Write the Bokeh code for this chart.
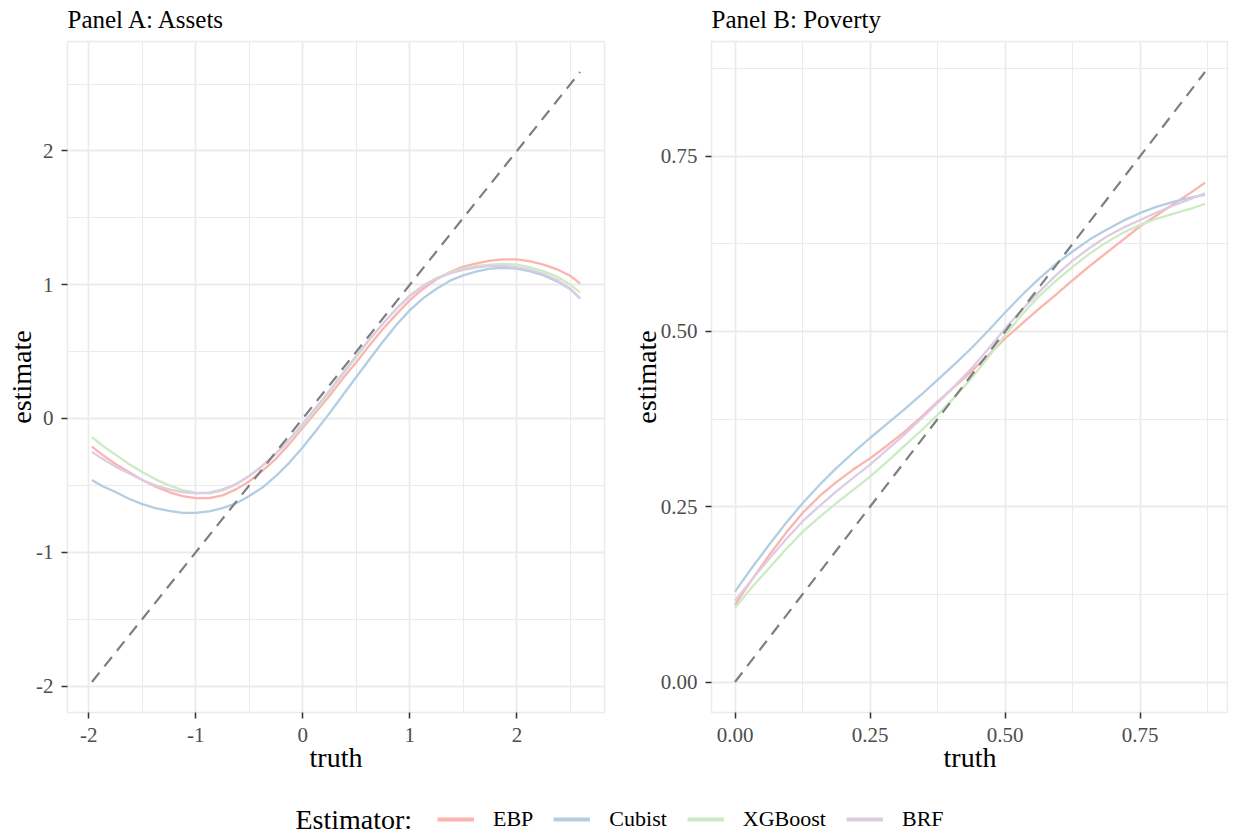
from bokeh.plotting import figure
from bokeh.layouts import column, row
from bokeh.models import Range1d, FixedTicker, Legend, LegendItem, NumeralTickFormatter, Label
from bokeh.embed import file_html
from bokeh.resources import INLINE

FONT = "Liberation Serif"

estimators = ["EBP", "Cubist", "XGBoost", "BRF"]
colors = ["#FBB4AE", "#B3CDE3", "#CCEBC5", "#DECBE4"]

# Panel A: Assets
assets_truth = [-1.97, -1.875, -1.75, -1.625, -1.5, -1.375, -1.25, -1.125, -1.0, -0.875,
                -0.75, -0.625, -0.5, -0.375, -0.25, -0.125, 0.0, 0.125, 0.25, 0.375,
                0.5, 0.625, 0.75, 0.875, 1.0, 1.125, 1.25, 1.375, 1.5, 1.625,
                1.75, 1.875, 2.0, 2.125, 2.25, 2.375, 2.5, 2.59]
assets_ebp = [-0.21, -0.27, -0.34, -0.40, -0.46, -0.51, -0.55, -0.58, -0.595, -0.595,
              -0.575, -0.53, -0.47, -0.39, -0.30, -0.19, -0.07, 0.05, 0.17, 0.30,
              0.42, 0.55, 0.67, 0.78, 0.885, 0.97, 1.04, 1.095, 1.135, 1.16,
              1.18, 1.19, 1.19, 1.175, 1.15, 1.115, 1.065, 1.01]
assets_cubist = [-0.46, -0.505, -0.55, -0.60, -0.64, -0.67, -0.69, -0.705, -0.705, -0.695,
                 -0.67, -0.635, -0.58, -0.515, -0.43, -0.33, -0.215, -0.09, 0.04, 0.175,
                 0.31, 0.445, 0.575, 0.70, 0.81, 0.90, 0.97, 1.03, 1.07, 1.10,
                 1.12, 1.125, 1.12, 1.10, 1.07, 1.025, 0.965, 0.90]
assets_xgboost = [-0.14, -0.20, -0.27, -0.34, -0.40, -0.455, -0.50, -0.535, -0.555, -0.56,
                  -0.54, -0.495, -0.43, -0.355, -0.265, -0.16, -0.05, 0.07, 0.20, 0.33,
                  0.46, 0.59, 0.71, 0.82, 0.92, 0.995, 1.05, 1.09, 1.12, 1.14,
                  1.15, 1.155, 1.15, 1.13, 1.10, 1.06, 1.00, 0.94]
assets_brf = [-0.25, -0.30, -0.36, -0.41, -0.46, -0.50, -0.53, -0.55, -0.56, -0.555,
              -0.53, -0.49, -0.43, -0.35, -0.26, -0.155, -0.04, 0.085, 0.21, 0.34,
              0.47, 0.595, 0.71, 0.82, 0.915, 0.99, 1.045, 1.085, 1.11, 1.13,
              1.14, 1.14, 1.13, 1.11, 1.08, 1.035, 0.97, 0.895]
assets_diag = [-1.97, 2.59]

# Panel B: Poverty
poverty_truth = [0.0, 0.03125, 0.0625, 0.09375, 0.125, 0.15625, 0.1875, 0.21875, 0.25,
                 0.28125, 0.3125, 0.34375, 0.375, 0.40625, 0.4375, 0.46875, 0.5,
                 0.53125, 0.5625, 0.59375, 0.625, 0.65625, 0.6875, 0.71875, 0.75,
                 0.78125, 0.8125, 0.84375, 0.87]
poverty_ebp = [0.110, 0.146, 0.180, 0.212, 0.241, 0.265, 0.285, 0.303, 0.319,
               0.337, 0.356, 0.377, 0.400, 0.421, 0.443, 0.466, 0.490,
               0.511, 0.532, 0.552, 0.573, 0.593, 0.612, 0.631, 0.650,
               0.666, 0.682, 0.698, 0.712]
poverty_cubist = [0.129, 0.163, 0.195, 0.226, 0.255, 0.281, 0.305, 0.327, 0.348,
                  0.368, 0.388, 0.409, 0.431, 0.453, 0.476, 0.501, 0.527,
                  0.552, 0.575, 0.596, 0.614, 0.631, 0.645, 0.658, 0.669,
                  0.678, 0.685, 0.691, 0.695]
poverty_xgboost = [0.106, 0.135, 0.162, 0.189, 0.214, 0.235, 0.255, 0.274, 0.293,
                   0.314, 0.336, 0.358, 0.381, 0.406, 0.433, 0.463, 0.495,
                   0.524, 0.550, 0.572, 0.592, 0.611, 0.627, 0.641, 0.652,
                   0.661, 0.668, 0.675, 0.682]
poverty_brf = [0.116, 0.146, 0.175, 0.203, 0.229, 0.251, 0.272, 0.291, 0.310,
               0.331, 0.352, 0.375, 0.398, 0.422, 0.447, 0.475, 0.504,
               0.531, 0.556, 0.580, 0.601, 0.619, 0.635, 0.648, 0.659,
               0.670, 0.680, 0.689, 0.697]
poverty_diag = [0.0, 0.87]

assets_ticks = [-2, -1, 0, 1, 2]
assets_minor = [-1.5, -0.5, 0.5, 1.5, 2.5]
poverty_ticks = [0.0, 0.25, 0.5, 0.75]
poverty_minor = [0.125, 0.375, 0.625, 0.875]


def expand(lo, hi, f=0.05):
    d = (hi - lo) * f
    return lo - d, hi + d


def make_panel(title, truth, series, diag, ticks, minor, fmt, width, mbl, mbr, ylab_standoff):
    lo, hi = expand(min(diag), max(diag))
    p = figure(width=width, height=782, x_range=Range1d(lo, hi), y_range=Range1d(lo, hi),
               output_backend="svg", toolbar_location=None, title=title,
               min_border_left=mbl, min_border_right=mbr, min_border_top=47,
               min_border_bottom=64)
    p.title.text_font = FONT
    p.title.text_font_size = "25px"
    p.title.text_font_style = "normal"
    p.title.text_color = "#000000"
    p.title.offset = 0
    p.title.standoff = 18
    p.outline_line_color = "#EBEBEB"
    p.outline_line_width = 1.5
    for ax in (p.xaxis[0], p.yaxis[0]):
        ax.ticker = FixedTicker(ticks=ticks, minor_ticks=minor)
        ax.formatter = NumeralTickFormatter(format=fmt)
        ax.axis_line_color = None
        ax.major_tick_line_color = "#333333"
        ax.major_tick_line_width = 1.5
        ax.major_tick_out = 6
        ax.major_tick_in = 0
        ax.minor_tick_line_color = None
        ax.major_label_text_font = FONT
        ax.major_label_text_font_size = "21px"
        ax.major_label_text_color = "#4D4D4D"
        ax.axis_label_text_font = FONT
        ax.axis_label_text_font_size = "28px"
        ax.axis_label_text_font_style = "normal"
        ax.axis_label_text_color = "#000000"
    p.xaxis.axis_label = "truth"
    p.yaxis.axis_label = "estimate"
    p.xaxis.major_label_standoff = 9
    p.yaxis.major_label_standoff = 8
    p.xaxis.axis_label_standoff = -3
    p.yaxis.axis_label_standoff = ylab_standoff
    for g in (p.xgrid[0], p.ygrid[0]):
        g.grid_line_color = "#EBEBEB"
        g.grid_line_width = 1.8
        g.minor_grid_line_color = "#EBEBEB"
        g.minor_grid_line_width = 1
    for est, c in zip(series, colors):
        p.line(truth, est, line_color=c, line_width=2.3)
    p.line(diag, diag, line_color="#7F7F7F", line_width=2.2, line_dash="12 8")
    return p


pA = make_panel("Panel A: Assets", assets_truth,
                [assets_ebp, assets_cubist, assets_xgboost, assets_brf],
                assets_diag, assets_ticks, assets_minor, "0", 620, 67, 16, -4)
pB = make_panel("Panel B: Poverty", poverty_truth,
                [poverty_ebp, poverty_cubist, poverty_xgboost, poverty_brf],
                poverty_diag, poverty_ticks, poverty_minor, "0.00", 608, 91, 0, -4)

leg = figure(width=1228, height=58, output_backend="svg", toolbar_location=None,
             x_axis_location=None, y_axis_location=None,
             x_range=Range1d(0, 1228), y_range=Range1d(0, 58),
             min_border_left=0, min_border_right=0, min_border_top=0, min_border_bottom=0)
leg.grid.visible = False
leg.outline_line_color = None
items = []
for name, c, est in zip(estimators, colors,
                        [assets_ebp, assets_cubist, assets_xgboost, assets_brf]):
    r = leg.line(assets_truth, est, line_color=c, line_width=4, visible=False)
    items.append(LegendItem(label=name, renderers=[r]))
legend = Legend(items=items, orientation="horizontal", location=(437, 2),
                glyph_width=37, glyph_height=22, label_standoff=19, spacing=20,
                padding=0, margin=0, border_line_color=None, background_fill_alpha=0,
                label_text_font=FONT, label_text_font_size="22px", label_text_color="#000000")
leg.add_layout(legend, "center")
leg.add_layout(Label(x=295, y=15, text="Estimator:", text_font=FONT, text_font_size="28px",
                     text_baseline="middle", text_align="left", text_color="#000000"))

layout = column(row(pA, pB), leg, margin=(-6, 0, 0, 0))

open("out.html", "w").write(file_html(layout, INLINE))
